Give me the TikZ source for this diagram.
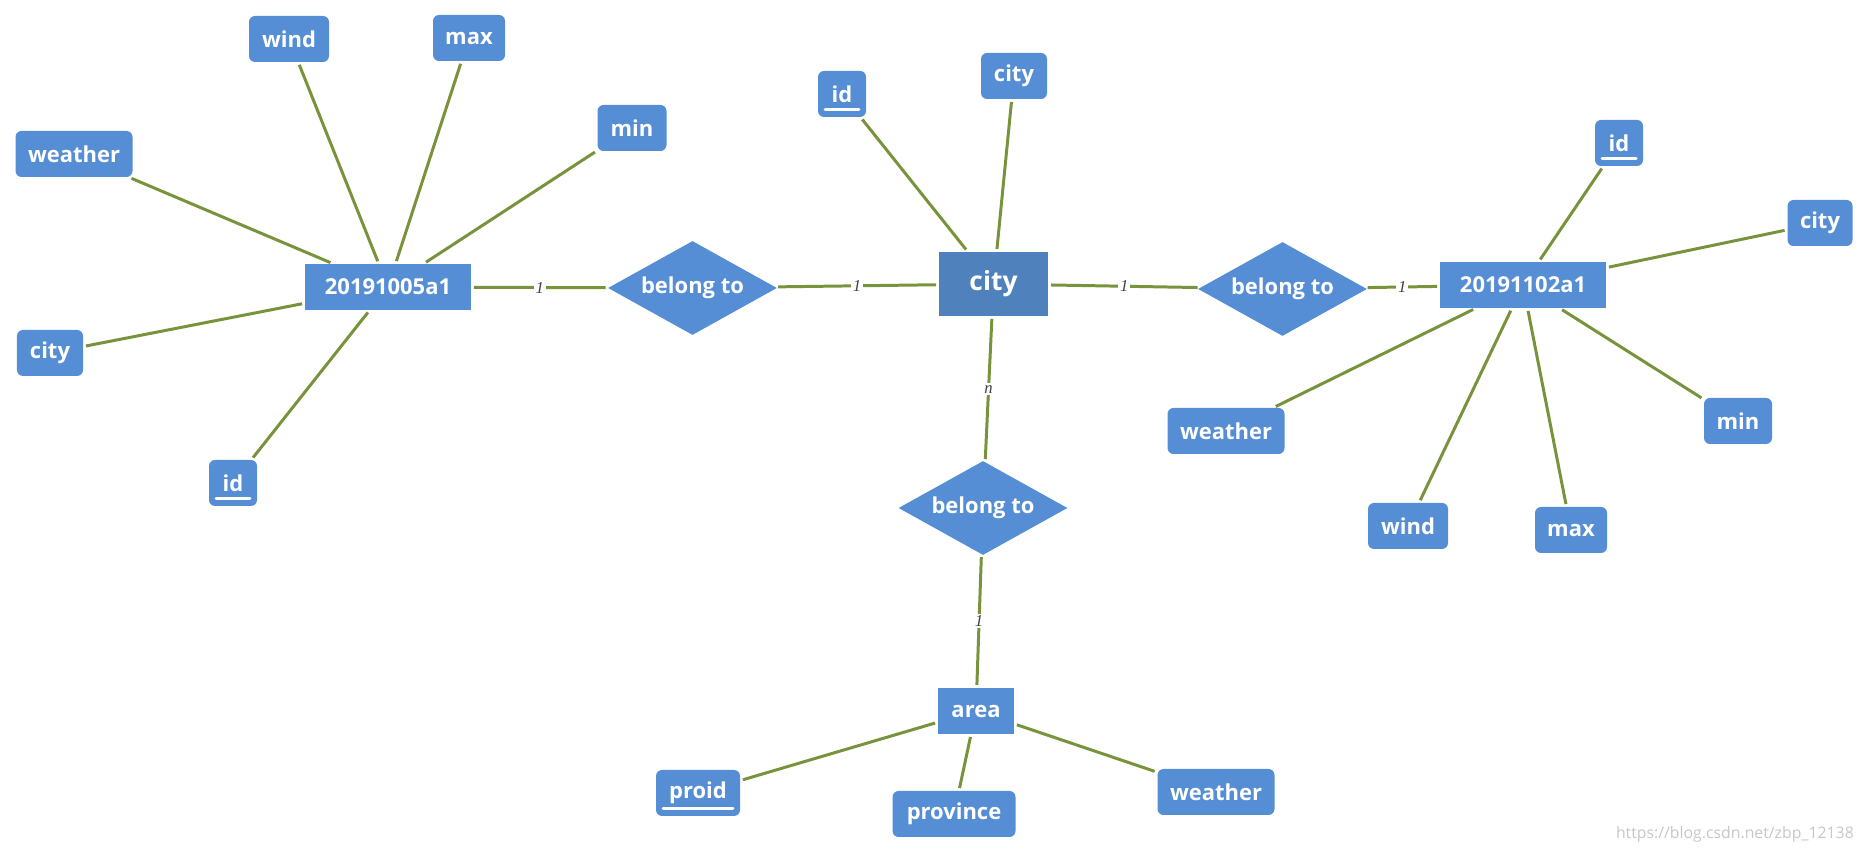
\documentclass[tikz,border=0pt]{standalone}
\usepackage{fontspec}
\setmainfont{Open Sans}
\newfontfamily\cardfont{Liberation Serif}
\usetikzlibrary{shapes.geometric}

\definecolor{boxblue}{RGB}{85,142,213}
\definecolor{cityblue}{RGB}{79,129,189}
\definecolor{linegreen}{RGB}{119,147,60}

\tikzset{
  entity/.style={rectangle, fill=boxblue, text=white, inner sep=0pt, minimum height=0.92cm,
    font=\bfseries\fontsize{12.5}{15}\selectfont},
  attr/.style={entity, rounded corners=0.12cm},
  key/.style={attr, path picture={
    \draw[white, line width=1.7pt, line cap=round]
      ([xshift=0.14cm, yshift=0.15cm]path picture bounding box.south west) --
      ([xshift=-0.14cm, yshift=0.15cm]path picture bounding box.south east);}},
  rel/.style={diamond, aspect=1.8, fill=boxblue, text=white, inner sep=0pt,
    minimum width=3.38cm, minimum height=1.88cm, font=\bfseries\fontsize{12.5}{15}\selectfont},
  link/.style={draw=linegreen, line width=1.7pt, shorten <=1.5pt, shorten >=1.5pt},
  card/.style={fill=white, inner sep=1pt, text=black!75, font=\cardfont\itshape\fontsize{9.5}{9.5}\selectfont}
}

\begin{document}
\begin{tikzpicture}[x=2cm, y=2cm]
\useasboundingbox (0,0) rectangle (18.70,8.53);

% Entities
\node[entity, minimum width=3.32cm] (E1) at (3.88,5.66) {20191005a1};
\node[entity, fill=cityblue, minimum width=2.18cm, minimum height=1.28cm,
  font=\bfseries\fontsize{15}{18}\selectfont] (C) at (9.935,5.69) {city};
\node[entity, minimum width=3.32cm] (E2) at (15.23,5.68) {20191102a1};
\node[entity, minimum width=1.52cm] (A) at (9.76,1.42) {area};

% Relations
\node[rel] (R1) at (6.925,5.65) {belong to};
\node[rel] (R2) at (12.825,5.64) {belong to};
\node[rel] (R3) at (9.83,3.45) {belong to};

% Attributes of 20191005a1
\node[attr, minimum width=2.34cm] (w1) at (0.74,6.99) {weather};
\node[attr, minimum width=1.6cm] (wd1) at (2.89,8.14) {wind};
\node[attr, minimum width=1.44cm] (mx1) at (4.69,8.15) {max};
\node[attr, minimum width=1.38cm] (mn1) at (6.32,7.25) {min};
\node[attr, minimum width=1.32cm] (c1) at (0.50,5.00) {city};
\node[key, minimum width=0.96cm] (id1) at (2.33,3.70) {id};

% Attributes of city
\node[key, minimum width=0.96cm] (id2) at (8.42,7.59) {id};
\node[attr, minimum width=1.32cm] (c2) at (10.14,7.77) {city};

% Attributes of 20191102a1
\node[key, minimum width=0.96cm] (id3) at (16.19,7.10) {id};
\node[attr, minimum width=1.30cm] (c3) at (18.20,6.30) {city};
\node[attr, minimum width=2.34cm] (w3) at (12.26,4.22) {weather};
\node[attr, minimum width=1.6cm] (wd3) at (14.08,3.27) {wind};
\node[attr, minimum width=1.44cm] (mx3) at (15.71,3.23) {max};
\node[attr, minimum width=1.36cm] (mn3) at (17.38,4.32) {min};

% Attributes of area
\node[key, minimum width=1.68cm] (p4) at (6.98,0.60) {proid};
\node[attr, minimum width=2.46cm] (pv4) at (9.54,0.39) {province};
\node[attr, minimum width=2.34cm] (w4) at (12.16,0.61) {weather};

% Edges
\draw[link] (E1) -- (w1);
\draw[link] (E1) -- (wd1);
\draw[link] (E1) -- (mx1);
\draw[link] (E1) -- (mn1);
\draw[link] (E1) -- (c1);
\draw[link] (E1) -- (id1);

\draw[link] (C) -- (id2);
\draw[link] (C) -- (c2);

\draw[link] (E2) -- (id3);
\draw[link] (E2) -- (c3);
\draw[link] (E2) -- (w3);
\draw[link] (E2) -- (wd3);
\draw[link] (E2) -- (mx3);
\draw[link] (E2) -- (mn3);

\draw[link] (A) -- (p4);
\draw[link] (A) -- (pv4);
\draw[link] (A) -- (w4);

% Relations with cardinality
\draw[link] (E1) -- node[card] {1} (R1);
\draw[link] (R1) -- node[card] {1} (C);
\draw[link] (C) -- node[card] {1} (R2);
\draw[link] (R2) -- node[card] {1} (E2);
\draw[link] (C) -- node[card] {n} (R3);
\draw[link] (R3) -- node[card] {1} (A);

% Watermark
\node[text=black!22, font=\fontsize{9}{9}\selectfont, anchor=east] (wm) at (18.60,0.19) {https://blog.csdn.net/zbp\_12138};

\end{tikzpicture}
\end{document}
